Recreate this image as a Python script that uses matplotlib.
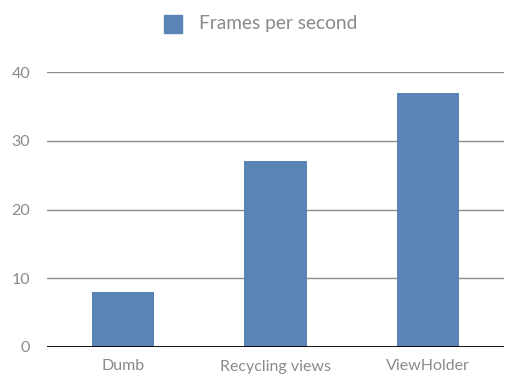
import matplotlib
matplotlib.use("Agg")
import matplotlib.pyplot as plt
from matplotlib.patches import Rectangle

categories = ["Dumb", "Recycling views", "ViewHolder"]
fps = [8, 27, 37]
yticks = [0, 10, 20, 30, 40]
series_name = "Frames per second"

plt.rcParams['font.family'] = ['Lato', 'DejaVu Sans']
bar_color = "#5a84b6"
text_color = "#8a8a8a"

fig = plt.figure(figsize=(5.21, 3.87), dpi=100)
ax = fig.add_axes([47/521, 1-347/387, 457/521, 275/387])

x = list(range(len(categories)))
ax.bar(x, fps, width=0.41, color=bar_color, zorder=3)
ax.set_xlim(-0.5, len(categories)-0.5)
ax.set_ylim(0, 40)
ax.set_yticks(yticks)
ax.set_xticks(x)
ax.set_xticklabels(categories)
for yv in yticks[1:]:
    ax.axhline(yv, color="#8c8c8c", lw=1, zorder=1)
ax.axhline(0, color="black", lw=1.3, zorder=4)
for s in ax.spines.values():
    s.set_visible(False)
ax.tick_params(axis='both', length=0, colors=text_color, labelsize=11.5)
ax.tick_params(axis='y', pad=12)
ax.tick_params(axis='x', pad=9)

# legend
fig.patches.append(Rectangle((164/521, 1-33/387), 18/521, 18/387,
                             transform=fig.transFigure, color=bar_color, figure=fig))
fig.text(199/521, 1-24/387, series_name, color=text_color, fontsize=13.8,
         va='center', ha='left')

fig.savefig("out.png", dpi=100)
